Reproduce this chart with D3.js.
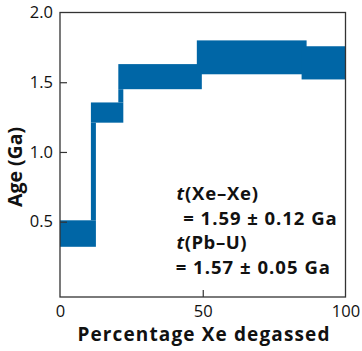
<!DOCTYPE html>
<html><head><meta charset="utf-8">
<script src="https://cdn.jsdelivr.net/npm/d3@7"></script>
<style>body{margin:0;background:#fff;}svg{display:block;font-family:"Open Sans",sans-serif;}</style>
</head><body><div id="c"></div>
<script>
// Step boundaries (% Xe degassed)
const stepStart = [0, 11.7, 21.3, 48.8, 85.5];
const stepEnd   = [11.7, 21.3, 48.8, 85.5, 100];
// Age ranges (Ga)
const ageLow  = [0.32, 1.21, 1.45, 1.557, 1.52];
const ageHigh = [0.51, 1.355, 1.63, 1.80, 1.758];
const xTicks = [0, 50, 100];
const yTicks = [0.5, 1.0, 1.5, 2.0];
const annItalic = ["t", "", "t", ""];
const annText = ["(Xe–Xe)", "= 1.59 ± 0.12 Ga", "(Pb–U)", "= 1.57 ± 0.05 Ga"];

const W = 362, H = 351;
const svg = d3.select("#c").append("svg").attr("width", W).attr("height", H);
const x = d3.scaleLinear().domain([0, 100]).range([60, 345.5]);
const y = d3.scaleLinear().domain([-0.04, 2.0]).range([297, 12.5]);
const fill = "#0066a6";
const half = 2.5;

function fitWidth(sel, target) {
  const node = sel.node();
  const n = node.getNumberOfChars();
  const len = node.getComputedTextLength();
  const ls = (target - len) / Math.max(1, n - 1);
  sel.attr("letter-spacing", ls.toFixed(3));
}

const g = svg.append("g");
stepStart.forEach((s, i) => {
  const x0 = Math.max(x(0), x(s) - (i > 0 ? half : 0));
  const x1 = Math.min(x(100), x(stepEnd[i]) + (i < stepStart.length - 1 ? half : 0));
  g.append("rect").attr("x", x0).attr("width", x1 - x0)
    .attr("y", y(ageHigh[i])).attr("height", y(ageLow[i]) - y(ageHigh[i]))
    .attr("fill", fill);
});
for (let i = 0; i < stepStart.length - 1; i++) {
  const a = Math.min(ageHigh[i], ageHigh[i + 1]);
  const b = Math.max(ageLow[i], ageLow[i + 1]);
  if (b > a) {
    g.append("rect").attr("x", x(stepEnd[i]) - half).attr("width", 2 * half)
      .attr("y", y(b)).attr("height", y(a) - y(b)).attr("fill", fill);
  }
}

const stroke = "#333";
svg.append("rect").attr("x", x(0)).attr("y", y(2.0)).attr("width", x(100) - x(0))
  .attr("height", y(-0.04) - y(2.0)).attr("fill", "none").attr("stroke", stroke).attr("stroke-width", 1.3);

const yAxis = d3.axisLeft(y).tickValues(yTicks).tickFormat(d3.format(".1f")).tickSizeInner(-7).tickSizeOuter(0).tickPadding(15);
const ya = svg.append("g").attr("transform", `translate(${x(0)},0)`).call(yAxis);
ya.select(".domain").remove();
ya.selectAll(".tick line").attr("stroke", stroke).attr("stroke-width", 1.2);
ya.selectAll(".tick text").attr("font-size", 16.5).attr("fill", "#111").attr("font-family", "Open Sans").attr("x", -7);
ya.selectAll(".tick").filter(d => d === 2.0).select("line").remove();

const xAxis = d3.axisBottom(x).tickValues(xTicks).tickFormat(d3.format("d")).tickSizeInner(-7).tickSizeOuter(0).tickPadding(10);
const xa = svg.append("g").attr("transform", `translate(0,${y(-0.04)})`).call(xAxis);
xa.select(".domain").remove();
xa.selectAll(".tick line").attr("stroke", stroke).attr("stroke-width", 1.2);
xa.selectAll(".tick").filter(d => d === 0 || d === 100).select("line").remove();
xa.selectAll(".tick text").attr("font-size", 16.5).attr("fill", "#111").attr("font-family", "Open Sans").attr("y", 8).attr("dy", "0.71em");

const yt = svg.append("text").attr("transform", "translate(21.5,167) rotate(-90)").attr("text-anchor", "middle")
  .attr("font-size", 19.5).attr("font-weight", "bold").attr("fill", "#111").text("Age (Ga)");
fitWidth(yt, 80);
const xt = svg.append("text").attr("x", 204).attr("y", 341).attr("text-anchor", "middle")
  .attr("font-size", 19).attr("font-weight", "bold").attr("fill", "#111").text("Percentage Xe degassed");
fitWidth(xt, 252);

const baselines = [200, 225, 248.5, 273.5];
const lefts = [176.5, 183.3, 176.5, 175.7];
const widths = [81.6, 153.4, 70, 154.3];
annText.forEach((txt, i) => {
  const t = svg.append("text").attr("x", lefts[i]).attr("y", baselines[i])
    .attr("font-size", 18.5).attr("font-weight", "bold").attr("fill", "#111");
  if (annItalic[i]) t.append("tspan").attr("font-style", "italic").text(annItalic[i]);
  t.append("tspan").text(txt);
  fitWidth(t, widths[i]);
});
</script></body></html>
